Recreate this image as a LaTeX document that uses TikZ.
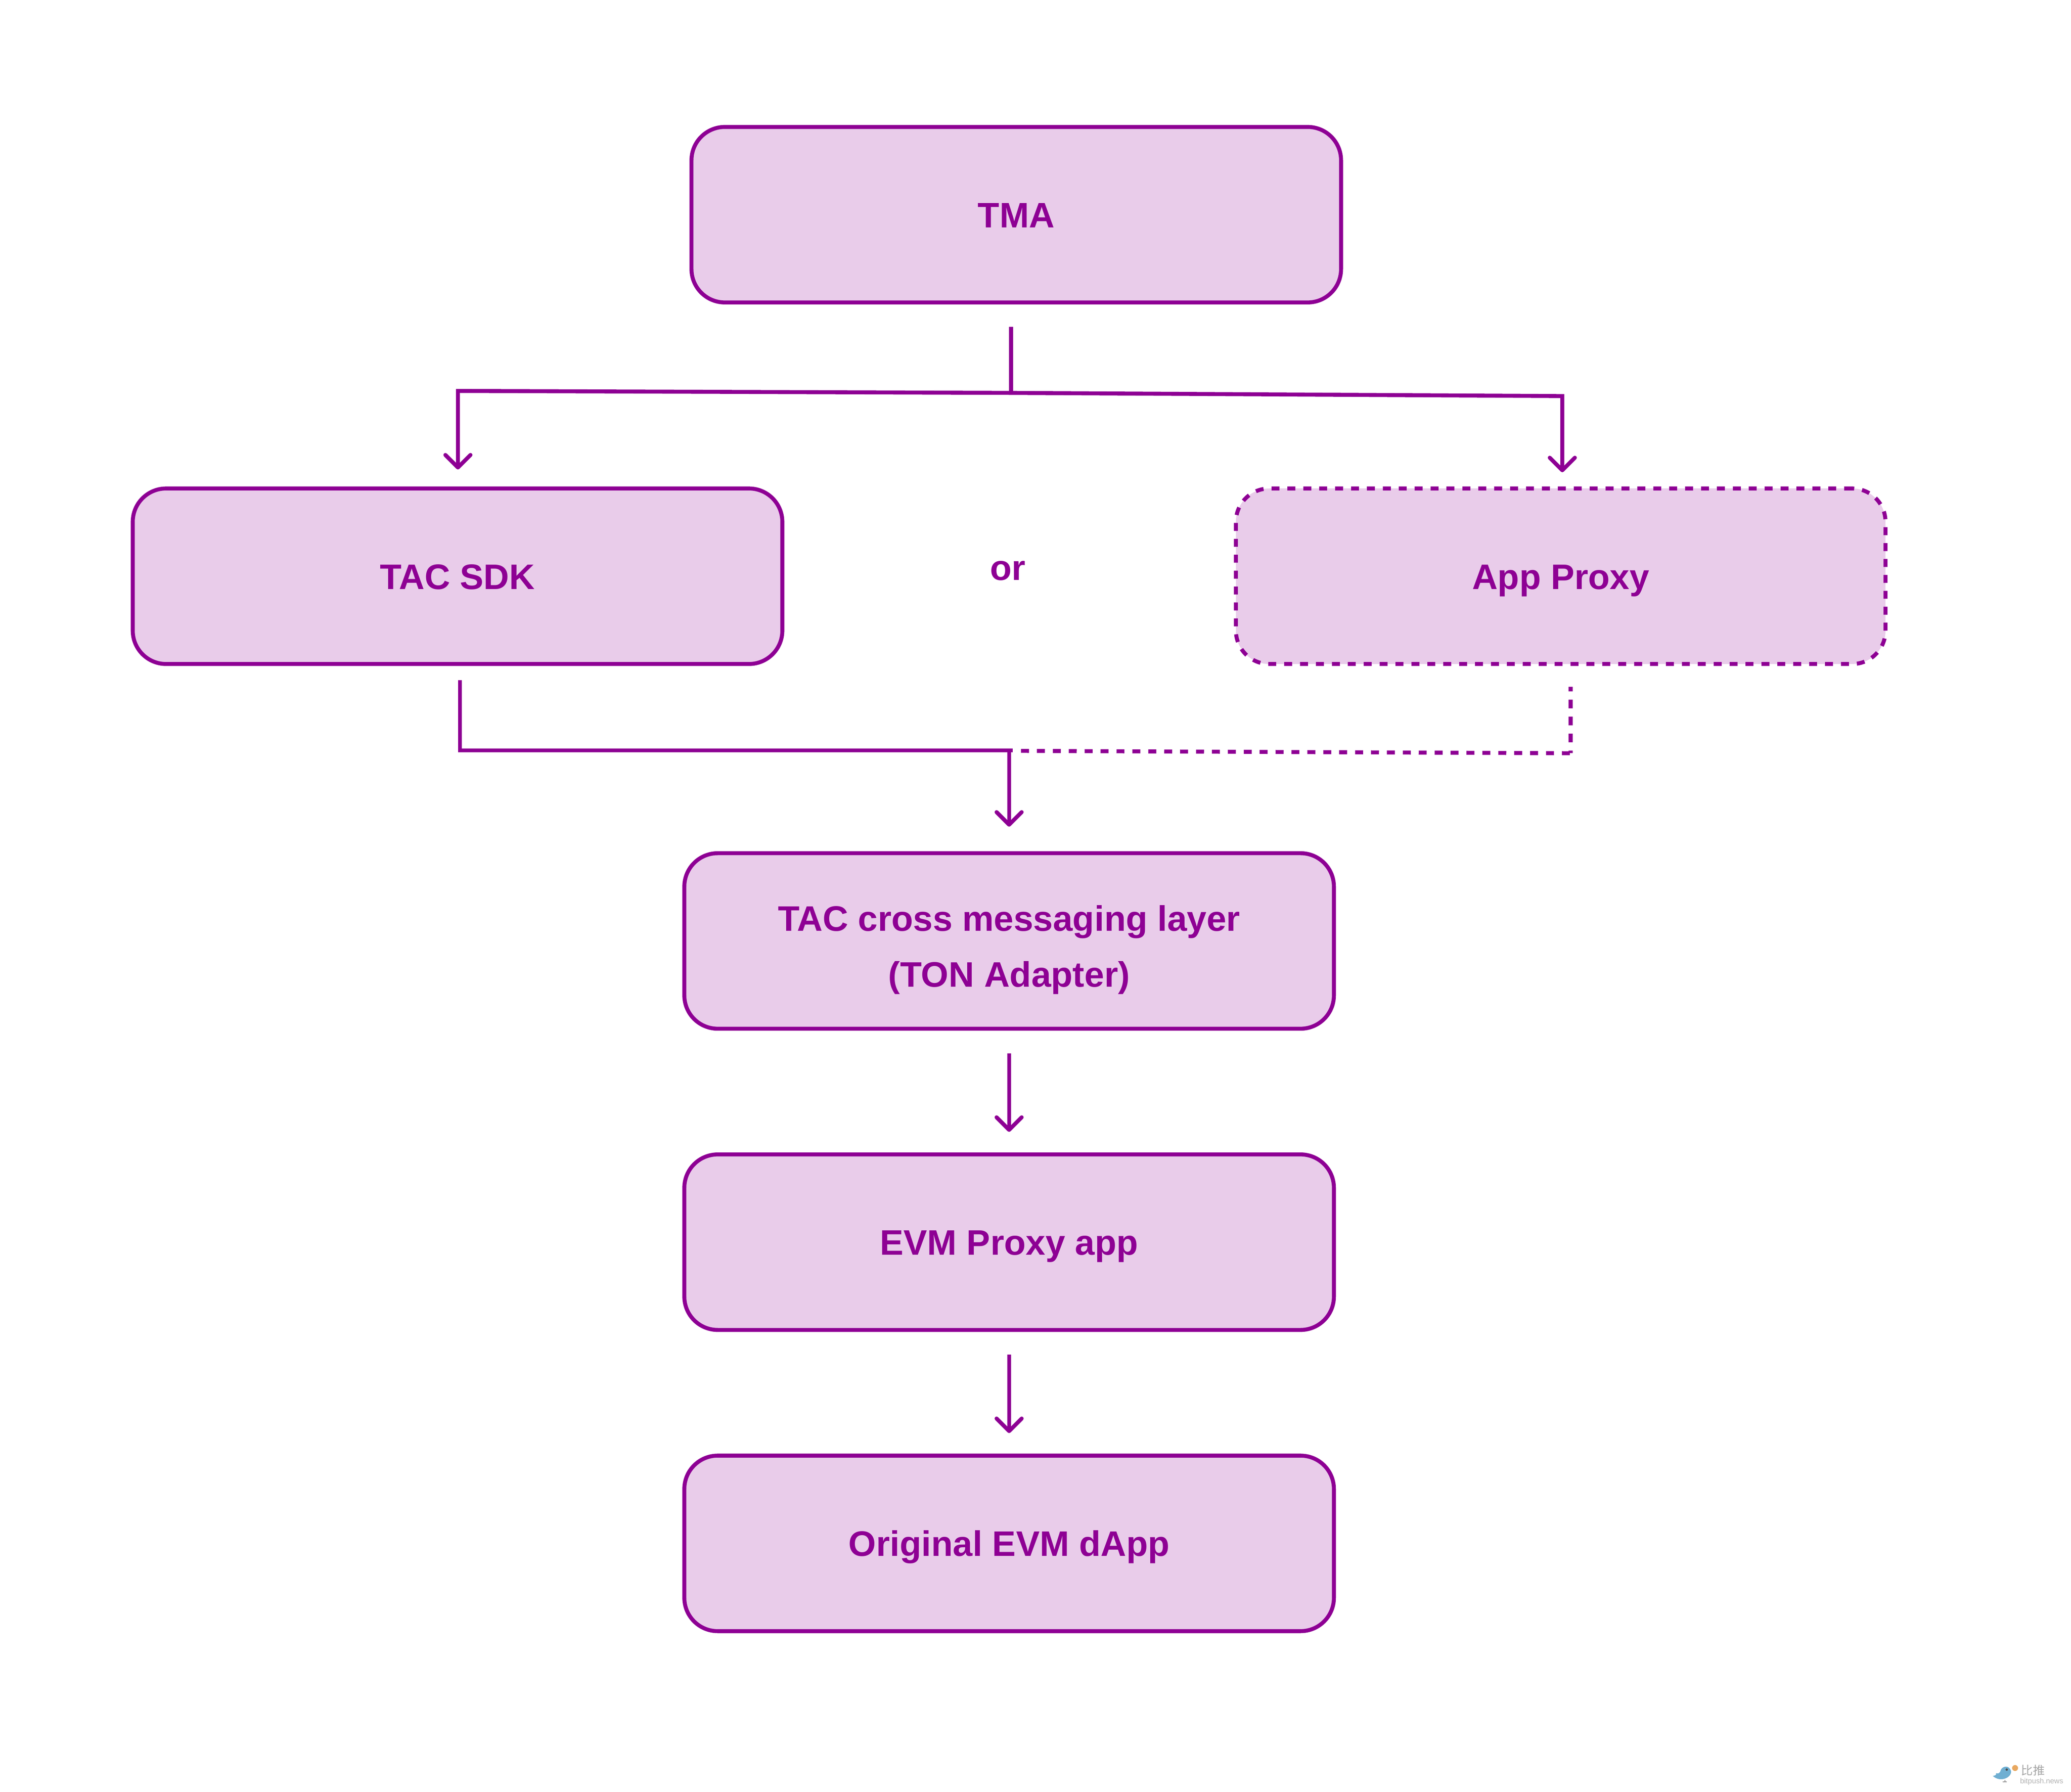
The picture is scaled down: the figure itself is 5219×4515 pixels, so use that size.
\documentclass[tikz,border=0pt]{standalone}
\usepackage{fontspec}
\setmainfont{Liberation Sans}
\newfontfamily\cjk{Noto Sans CJK SC}
\usetikzlibrary{arrows.meta}
\definecolor{tacpurple}{HTML}{8E0094}
\definecolor{tacfill}{HTML}{E9CCEA}
\definecolor{birdblue}{HTML}{6FAFD2}
\definecolor{coin}{HTML}{E8A860}

\begin{document}
\begin{tikzpicture}[
  x = .01cm, y = -.01cm,
  > = {Straight Barb[length=9pt,width=18pt,round]},
  line width = 2.85pt,
  label font/.style = {text=tacpurple,font=\bfseries\fontsize{25.4}{40}\selectfont},
  box/.style = {draw=tacpurple,fill=tacfill,rounded corners=.84cm,minimum width=16.36cm,minimum height=4.42cm,align=center,label font,text height=18.4pt,text depth=0pt},
  link/.style = {draw=tacpurple},
  dotlink/.style = {draw=tacpurple,dash pattern=on 5.7pt off 5.7pt}
  ]
  \useasboundingbox (0,0) rectangle (5219,4515);
  \node[box] (tma) at (2561,541) {TMA};
  \node[box] (sdk) at (1153,1452) {TAC SDK};
  \node[box,dash pattern=on 5.7pt off 5.7pt] (proxy) at (3933,1452) {App Proxy};
  \node[label font] (or) at (2540,1438) {or};
  \node[box,text height=66pt,text depth=0pt] (layer) at (2543,2371) {TAC cross messaging layer\\(TON Adapter)};
  \node[box] (evm) at (2543,3130) {EVM Proxy app};
  \node[box] (dapp) at (2543,3889) {Original EVM dApp};
  \coordinate (tmaout) at (2548,824);
  \coordinate (tmafork) at (2548,990);
  \coordinate (sdkturn) at (1154,985);
  \coordinate (sdkin) at (1154,1183);
  \coordinate (proxyturn) at (3937,998);
  \coordinate (proxyin) at (3937,1190);
  \coordinate (sdkout) at (1159,1714);
  \coordinate (sdkdown) at (1159,1891);
  \coordinate (merge) at (2552,1891);
  \coordinate (dotstart) at (2573,1892);
  \coordinate (proxyout) at (3958,1731);
  \coordinate (proxydown) at (3958,1898);
  \coordinate (layerfork) at (2543,1891);
  \coordinate (layerin) at (2543,2083);
  \coordinate (layerout) at (2543,2654);
  \coordinate (evmin) at (2543,2852);
  \coordinate (evmout) at (2543,3413);
  \coordinate (dappin) at (2543,3611);
  \draw[link] (tmaout) -- (tmafork);
  \draw[link,->] (tmafork) -- (sdkturn) -- (sdkin);
  \draw[link,->] (tmafork) -- (proxyturn) -- (proxyin);
  \draw[link] (sdkout) -- (sdkdown) -- (merge);
  \draw[dotlink] (dotstart) -- (proxydown);
  \draw[dotlink,dash pattern=on 6.2pt off 6pt,dash phase=3.1pt] (proxyout) -- (proxydown);
  \draw[link,->] (layerfork) -- (layerin);
  \draw[link,->] (layerout) -- (evmin);
  \draw[link,->] (evmout) -- (dappin);
  % watermark
  \fill[birdblue] (5022,4475) .. controls (5028,4474) and (5032,4472) .. (5030,4468) .. controls (5036,4470) and (5040,4468) .. (5042,4460) .. controls (5046,4450) and (5064,4446) .. (5068,4464) .. controls (5068,4480) and (5040,4492) .. (5022,4475) -- cycle;
  \fill[black!70] (5057,4459) circle (3);
  \draw[black!70,line width=.3pt] (5052,4485) -- (5052,4489) (5047,4490) -- (5057,4490);
  \fill[coin] (5078,4455) circle (7.5);
  \node[text=black!35,font=\cjk\fontsize{8.5}{9}\selectfont,inner sep=0pt] (wmcn) at (5123,4461) {比推};
  \node[text=black!30,font=\fontsize{5.3}{7}\selectfont,inner sep=0pt] (wmen) at (5145,4489) {bitpush.news};
\end{tikzpicture}
\end{document}
